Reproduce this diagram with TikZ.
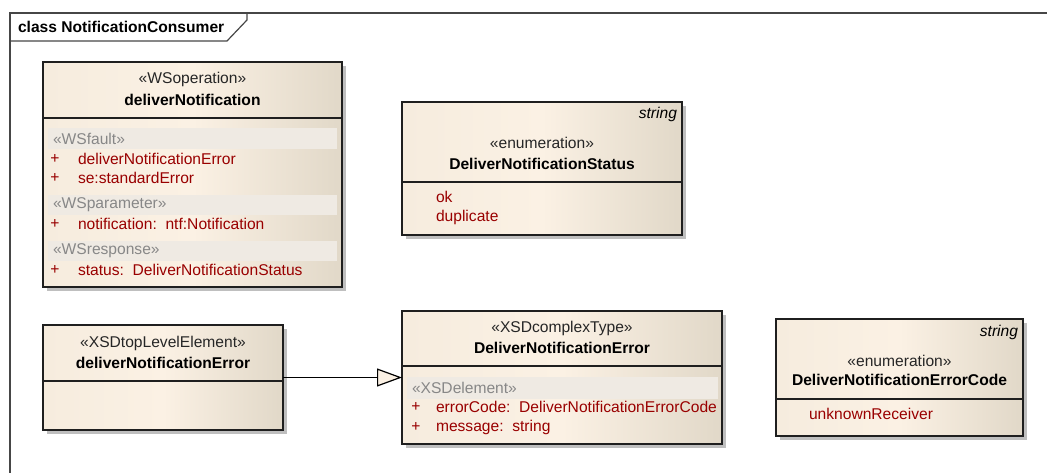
\documentclass[tikz,border=0pt]{standalone}
\usepackage{fontspec}
\setmainfont{Liberation Sans}
\usetikzlibrary{arrows.meta,shadows}

\definecolor{attrred}{RGB}{153,0,0}
\definecolor{stereogray}{RGB}{135,135,135}
\definecolor{creamL}{RGB}{246,236,222}
\definecolor{creamM}{RGB}{251,241,228}
\definecolor{creamR}{RGB}{225,216,200}
\definecolor{bandfill}{RGB}{239,234,227}
\definecolor{framecol}{RGB}{70,70,70}

\tikzset{
	every node/.style={font=\fontsize{15.6}{18}\selectfont, inner sep=0pt, outer sep=0pt},
	classbox/.style={draw=black!88, line width=1.3pt, anchor=north west,
		left color=creamL, right color=creamR, middle color=creamM,
		drop shadow={shadow xshift=4pt, shadow yshift=-4pt, opacity=1, fill=black!25}},
	divline/.style={draw=black!88, line width=1.2pt},
	band/.style={fill=bandfill, anchor=north west},
	stereo/.style={text=black!85},
	bandtext/.style={text=stereogray, anchor=west},
	cname/.style={font=\fontsize{15.6}{18}\selectfont\bfseries},
	attr/.style={text=attrred},
	basetype/.style={font=\fontsize{15.6}{18}\selectfont\itshape, anchor=east},
	frameline/.style={draw=framecol, line width=1.2pt},
	generalize/.style={line width=1.2pt, -{Triangle[width=18pt,length=25pt,fill=creamM]}}
}

\begin{document}
\begin{tikzpicture}[x=1pt,y=-1pt]
	\useasboundingbox (0,0) rectangle (1047,473);
	% frame
	\draw[frameline] (10,473) -- (10,13) -- (1047,13);
	\draw[frameline] (10,41) -- (227,41) -- (247,20) -- (247,13);
	\node[anchor=west, font=\fontsize{15.6}{18}\selectfont\bfseries] (title) at (18,27) {class NotificationConsumer};

	% deliverNotification
	\node[classbox, minimum width=299pt, minimum height=225pt] (op) at (43,62) {};
	\node[stereo] (opst) at (192.5,79) {«WSoperation»};
	\node[cname] (opname) at (192.5,100) {deliverNotification};
	\draw[divline] (op.west |- 0,118) -- (op.east |- 0,118);
	\node[band, minimum width=289pt, minimum height=21pt] (opb1) at (48,128) {};
	\node[bandtext] (opb1t) at (53,139) {«WSfault»};
	\node[attr] (opp1) at (55,159) {+};
	\node[attr, anchor=west] (opa1) at (78,159) {deliverNotificationError};
	\node[attr] (opp2) at (55,178) {+};
	\node[attr, anchor=west] (opa2) at (78,178) {se:standardError};
	\node[band, minimum width=289pt, minimum height=20pt] (opb2) at (48,195) {};
	\node[bandtext] (opb2t) at (53,205) {«WSparameter»};
	\node[attr] (opp3) at (55,224) {+};
	\node[attr, anchor=west] (opa3) at (78,224) {notification:\ \ ntf:Notification};
	\node[band, minimum width=289pt, minimum height=20pt] (opb3) at (48,241) {};
	\node[bandtext] (opb3t) at (53,251) {«WSresponse»};
	\node[attr] (opp4) at (55,270) {+};
	\node[attr, anchor=west] (opa4) at (78,270) {status:\ \ DeliverNotificationStatus};

	% DeliverNotificationStatus
	\node[classbox, minimum width=280pt, minimum height=133pt] (stat) at (402,102) {};
	\node[basetype] (statbase) at (677,114) {string};
	\node[stereo] (statst) at (542,143) {«enumeration»};
	\node[cname] (statname) at (542,164) {DeliverNotificationStatus};
	\draw[divline] (stat.west |- 0,182) -- (stat.east |- 0,182);
	\node[attr, anchor=west] (statok) at (436,197) {ok};
	\node[attr, anchor=west] (statdup) at (436,217) {duplicate};

	% deliverNotificationError element
	\node[classbox, minimum width=240pt, minimum height=105pt] (elem) at (43,325) {};
	\node[stereo] (elemst) at (163,343) {«XSDtopLevelElement»};
	\node[cname] (elemname) at (163,363) {deliverNotificationError};
	\draw[divline] (elem.west |- 0,381) -- (elem.east |- 0,381);

	% DeliverNotificationError type
	\node[classbox, minimum width=320pt, minimum height=133pt] (ctype) at (402,311) {};
	\node[stereo] (ctypest) at (562,328) {«XSDcomplexType»};
	\node[cname] (ctypename) at (562,348) {DeliverNotificationError};
	\draw[divline] (ctype.west |- 0,366) -- (ctype.east |- 0,366);
	\node[band, minimum width=311pt, minimum height=22pt] (ctb) at (407,377) {};
	\node[bandtext] (ctbt) at (412,388) {«XSDelement»};
	\node[attr] (ctp1) at (416,407) {+};
	\node[attr, anchor=west] (cta1) at (436,407) {errorCode:\ \ DeliverNotificationErrorCode};
	\node[attr] (ctp2) at (416,427) {+};
	\node[attr, anchor=west] (cta2) at (436,427) {message:\ \ string};

	% DeliverNotificationErrorCode
	\node[classbox, minimum width=247pt, minimum height=117pt] (code) at (776,319) {};
	\node[basetype] (codebase) at (1018,332) {string};
	\node[stereo] (codest) at (899.5,361) {«enumeration»};
	\node[cname] (codename) at (899.5,380) {DeliverNotificationErrorCode};
	\draw[divline] (code.west |- 0,399) -- (code.east |- 0,399);
	\node[attr, anchor=west] (codeunk) at (809,414) {unknownReceiver};

	% generalization
	\draw[generalize] (elem.east) -- (ctype.west |- elem.east);
\end{tikzpicture}
\end{document}
